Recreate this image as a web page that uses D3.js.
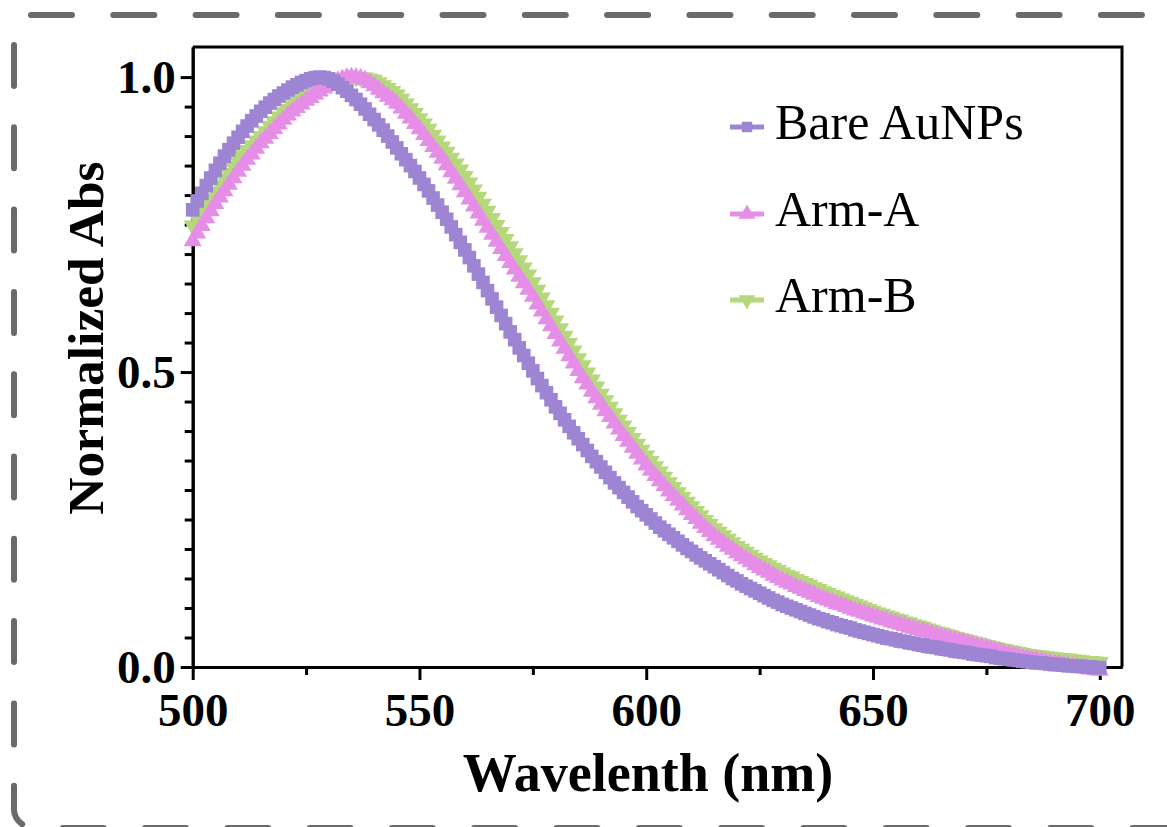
<!DOCTYPE html>
<html>
<head>
<meta charset="utf-8">
<script src="https://cdn.jsdelivr.net/npm/d3@7"></script>
<style>
  html, body { margin: 0; padding: 0; background: #fff; }
  svg { display: block; }
</style>
</head>
<body>
<svg id="viz"></svg>
<script>
const svg = d3.select("#viz").attr("width", 1167).attr("height", 827);

// wavelengths, 1 nm apart
const wavelengths = d3.range(500, 701);

const bare = [
  0.775, 0.79, 0.803, 0.816, 0.829, 0.842, 0.854, 0.866, 0.877, 0.888,
  0.898, 0.908, 0.917, 0.926, 0.934, 0.942, 0.949, 0.956, 0.962, 0.968,
  0.973, 0.978, 0.983, 0.987, 0.991, 0.994, 0.997, 0.999, 1.0, 0.999,
  0.997, 0.993, 0.988, 0.982, 0.976, 0.969, 0.962, 0.954, 0.946, 0.937,
  0.928, 0.919, 0.91, 0.9, 0.89, 0.88, 0.87, 0.86, 0.85, 0.84,
  0.829, 0.818, 0.807, 0.795, 0.783, 0.771, 0.759, 0.746, 0.733, 0.72,
  0.707, 0.694, 0.68, 0.666, 0.652, 0.638, 0.624, 0.61, 0.596, 0.582,
  0.568, 0.555, 0.541, 0.528, 0.515, 0.502, 0.489, 0.477, 0.465, 0.453,
  0.441, 0.43, 0.419, 0.408, 0.397, 0.387, 0.377, 0.367, 0.357, 0.348,
  0.339, 0.33, 0.321, 0.312, 0.304, 0.296, 0.288, 0.28, 0.272, 0.265,
  0.258, 0.251, 0.244, 0.237, 0.231, 0.225, 0.219, 0.213, 0.207, 0.201,
  0.196, 0.19, 0.185, 0.18, 0.175, 0.17, 0.165, 0.16, 0.155, 0.15,
  0.146, 0.141, 0.137, 0.133, 0.129, 0.125, 0.121, 0.117, 0.113, 0.11,
  0.106, 0.103, 0.1, 0.097, 0.094, 0.091, 0.088, 0.085, 0.082, 0.08,
  0.077, 0.075, 0.072, 0.07, 0.068, 0.066, 0.063, 0.061, 0.059, 0.057,
  0.055, 0.053, 0.051, 0.049, 0.048, 0.046, 0.044, 0.043, 0.041, 0.04,
  0.038, 0.037, 0.035, 0.034, 0.033, 0.031, 0.03, 0.029, 0.027, 0.026,
  0.025, 0.024, 0.022, 0.021, 0.02, 0.019, 0.018, 0.016, 0.015, 0.014,
  0.013, 0.012, 0.011, 0.01, 0.009, 0.008, 0.007, 0.007, 0.006, 0.005,
  0.004, 0.004, 0.003, 0.002, 0.002, 0.001, 0.001, 0.0, 0.0, -0.001,
  -0.001
];

const armA = [
  0.722, 0.735, 0.748, 0.761, 0.773, 0.785, 0.796, 0.807, 0.818, 0.829,
  0.84, 0.85, 0.86, 0.869, 0.879, 0.888, 0.896, 0.904, 0.912, 0.92,
  0.928, 0.935, 0.942, 0.948, 0.954, 0.96, 0.965, 0.971, 0.976, 0.981,
  0.986, 0.99, 0.994, 0.997, 0.999, 1.0, 0.999, 0.998, 0.995, 0.99,
  0.985, 0.979, 0.973, 0.967, 0.961, 0.955, 0.947, 0.938, 0.93, 0.921,
  0.912, 0.902, 0.892, 0.882, 0.872, 0.862, 0.851, 0.839, 0.828, 0.817,
  0.805, 0.793, 0.781, 0.769, 0.757, 0.745, 0.733, 0.721, 0.709, 0.697,
  0.685, 0.674, 0.662, 0.651, 0.64, 0.628, 0.615, 0.603, 0.59, 0.578,
  0.565, 0.552, 0.54, 0.527, 0.515, 0.502, 0.49, 0.479, 0.467, 0.456,
  0.445, 0.434, 0.424, 0.413, 0.403, 0.392, 0.382, 0.372, 0.362, 0.352,
  0.342, 0.333, 0.324, 0.315, 0.307, 0.298, 0.29, 0.282, 0.274, 0.266,
  0.258, 0.251, 0.243, 0.236, 0.229, 0.222, 0.216, 0.21, 0.204, 0.199,
  0.193, 0.188, 0.183, 0.178, 0.173, 0.168, 0.164, 0.16, 0.155, 0.151,
  0.147, 0.143, 0.14, 0.136, 0.133, 0.129, 0.126, 0.123, 0.119, 0.116,
  0.113, 0.11, 0.107, 0.105, 0.102, 0.099, 0.096, 0.094, 0.091, 0.089,
  0.086, 0.084, 0.081, 0.079, 0.076, 0.074, 0.072, 0.07, 0.067, 0.065,
  0.063, 0.061, 0.059, 0.056, 0.054, 0.052, 0.05, 0.048, 0.046, 0.044,
  0.042, 0.04, 0.038, 0.036, 0.034, 0.032, 0.03, 0.028, 0.026, 0.024,
  0.022, 0.02, 0.018, 0.016, 0.015, 0.013, 0.012, 0.01, 0.009, 0.007,
  0.006, 0.005, 0.003, 0.002, 0.001, 0.0, -0.001, -0.002, -0.004, -0.005,
  -0.006
];

const armB = [
  0.748, 0.76, 0.772, 0.783, 0.794, 0.805, 0.816, 0.827, 0.837, 0.848,
  0.858, 0.867, 0.876, 0.884, 0.892, 0.9, 0.908, 0.917, 0.925, 0.933,
  0.94, 0.946, 0.952, 0.958, 0.964, 0.97, 0.974, 0.978, 0.982, 0.986,
  0.99, 0.992, 0.994, 0.996, 0.998, 0.999, 1.0, 1.0, 0.999, 0.997,
  0.995, 0.991, 0.986, 0.981, 0.976, 0.97, 0.963, 0.955, 0.947, 0.939,
  0.93, 0.921, 0.912, 0.902, 0.892, 0.882, 0.873, 0.863, 0.853, 0.843,
  0.832, 0.821, 0.809, 0.797, 0.785, 0.773, 0.761, 0.749, 0.737, 0.725,
  0.713, 0.701, 0.689, 0.677, 0.665, 0.652, 0.639, 0.626, 0.613, 0.6,
  0.587, 0.574, 0.561, 0.549, 0.536, 0.523, 0.511, 0.499, 0.487, 0.475,
  0.463, 0.452, 0.441, 0.43, 0.419, 0.409, 0.398, 0.388, 0.378, 0.368,
  0.358, 0.349, 0.34, 0.331, 0.322, 0.313, 0.305, 0.296, 0.288, 0.28,
  0.272, 0.264, 0.257, 0.249, 0.242, 0.235, 0.229, 0.223, 0.217, 0.211,
  0.205, 0.2, 0.195, 0.19, 0.185, 0.18, 0.176, 0.172, 0.168, 0.164,
  0.16, 0.156, 0.153, 0.149, 0.146, 0.142, 0.139, 0.135, 0.132, 0.128,
  0.125, 0.122, 0.119, 0.116, 0.113, 0.11, 0.107, 0.104, 0.101, 0.098,
  0.095, 0.092, 0.09, 0.087, 0.085, 0.082, 0.08, 0.077, 0.075, 0.072,
  0.07, 0.068, 0.065, 0.063, 0.06, 0.058, 0.056, 0.054, 0.051, 0.049,
  0.047, 0.045, 0.043, 0.041, 0.039, 0.037, 0.035, 0.033, 0.031, 0.03,
  0.028, 0.027, 0.025, 0.024, 0.022, 0.021, 0.02, 0.019, 0.018, 0.017,
  0.016, 0.015, 0.014, 0.014, 0.013, 0.012, 0.011, 0.01, 0.01, 0.009,
  0.008
];

const seriesNames = ["Bare AuNPs", "Arm-A", "Arm-B"];
const seriesColors = ["#9d85d4", "#e68de8", "#b4d87a"];
const xMajorTicks = [500, 550, 600, 650, 700];
const xMinorTicks = [525, 575, 625, 675];
const yMajorTicks = [0, 0.5, 1.0];
const yMinorTicks = [0.05, 0.1, 0.15, 0.2, 0.25, 0.3, 0.35, 0.4, 0.45,
                     0.55, 0.6, 0.65, 0.7, 0.75, 0.8, 0.85, 0.9, 0.95];

const serif = "'Liberation Serif', 'Times New Roman', serif";

const plotLeft = 192.7, plotRight = 1122, plotTop = 47, plotBottom = 667;
const x = d3.scaleLinear().domain([500, 704.9]).range([plotLeft, plotRight]);
const y = d3.scaleLinear().domain([0, 1.051]).range([plotBottom, plotTop]);

// dashed rounded frame (partly off page at right / bottom)
const frame = svg.append("g")
  .attr("fill", "none")
  .attr("stroke", "#6a6a6a")
  .attr("stroke-width", 6)
  .attr("stroke-linecap", "round")
  .attr("stroke-dasharray", "41 41.3");
frame.append("path").attr("d", "M31,15 H1200");
frame.append("path").attr("d", "M14,45 V806 A20,20 0 0 0 34,828 H1200");

// axes
svg.append("g")
  .attr("transform", `translate(0,${plotBottom})`)
  .call(d3.axisBottom(x).tickValues(xMajorTicks).tickSize(13).tickPadding(13).tickSizeOuter(0));
svg.append("g")
  .attr("transform", `translate(0,${plotBottom})`)
  .call(d3.axisBottom(x).tickValues(xMinorTicks).tickSize(8).tickFormat("").tickSizeOuter(0));

svg.append("g")
  .attr("transform", `translate(${plotLeft},0)`)
  .call(d3.axisLeft(y).tickValues(yMajorTicks).tickFormat(d3.format(".1f"))
    .tickSize(12).tickPadding(5).tickSizeOuter(0));
svg.append("g")
  .attr("transform", `translate(${plotLeft},0)`)
  .call(d3.axisLeft(y).tickValues(yMinorTicks).tickSize(8).tickFormat("").tickSizeOuter(0));

svg.selectAll(".domain, .tick line")
  .attr("stroke", "#000")
  .attr("stroke-width", 3);
svg.selectAll(".tick text")
  .attr("font-family", serif)
  .attr("font-weight", "bold")
  .attr("font-size", 47)
  .attr("fill", "#000");

// top and right edges of the box
svg.append("path")
  .attr("d", `M${plotLeft},${plotTop} H${plotRight} V${plotBottom}`)
  .attr("fill", "none")
  .attr("stroke", "#000")
  .attr("stroke-width", 3);

// axis titles
svg.append("text")
  .attr("x", 648)
  .attr("y", 791)
  .attr("text-anchor", "middle")
  .attr("font-family", serif)
  .attr("font-weight", "bold")
  .attr("font-size", 54)
  .text("Wavelenth (nm)");

svg.append("text")
  .attr("transform", "translate(103,338) rotate(-90)")
  .attr("text-anchor", "middle")
  .attr("font-family", serif)
  .attr("font-weight", "bold")
  .attr("font-size", 51.5)
  .text("Normalized Abs");

// markers
const square = d3.symbol().type(d3.symbolSquare).size(185);
const triangle = d3.symbol().type(d3.symbolTriangle).size(140);
const shapes = [
  { path: square(), rot: 0 },
  { path: triangle(), rot: 0 },
  { path: triangle(), rot: 180 }
];

const series = [bare, armA, armB];
// green first, pink, purple on top
[2, 1, 0].forEach(i => {
  svg.append("g")
    .selectAll("path")
    .data(series[i])
    .enter()
    .append("path")
    .attr("d", shapes[i].path)
    .attr("transform", (d, j) => `translate(${x(wavelengths[j])},${y(d)}) rotate(${shapes[i].rot})`)
    .attr("fill", seriesColors[i]);
});

// legend
const legendY = [127, 214, 300];
const legend = svg.append("g");
const legendTri = d3.symbol().type(d3.symbolTriangle).size(120);
seriesNames.forEach((name, i) => {
  const g = legend.append("g").attr("transform", `translate(747,${legendY[i]})`);
  g.append("line")
    .attr("x1", -17).attr("x2", 17)
    .attr("stroke", seriesColors[i])
    .attr("stroke-width", 5);
  g.append("path")
    .attr("d", i === 0 ? d3.symbol().type(d3.symbolSquare).size(110)() : legendTri())
    .attr("transform", `rotate(${shapes[i].rot})`)
    .attr("fill", seriesColors[i]);
  g.append("text")
    .attr("x", 28)
    .attr("y", 12)
    .attr("font-family", serif)
    .attr("font-size", 50)
    .text(name);
});
</script>
</body>
</html>
